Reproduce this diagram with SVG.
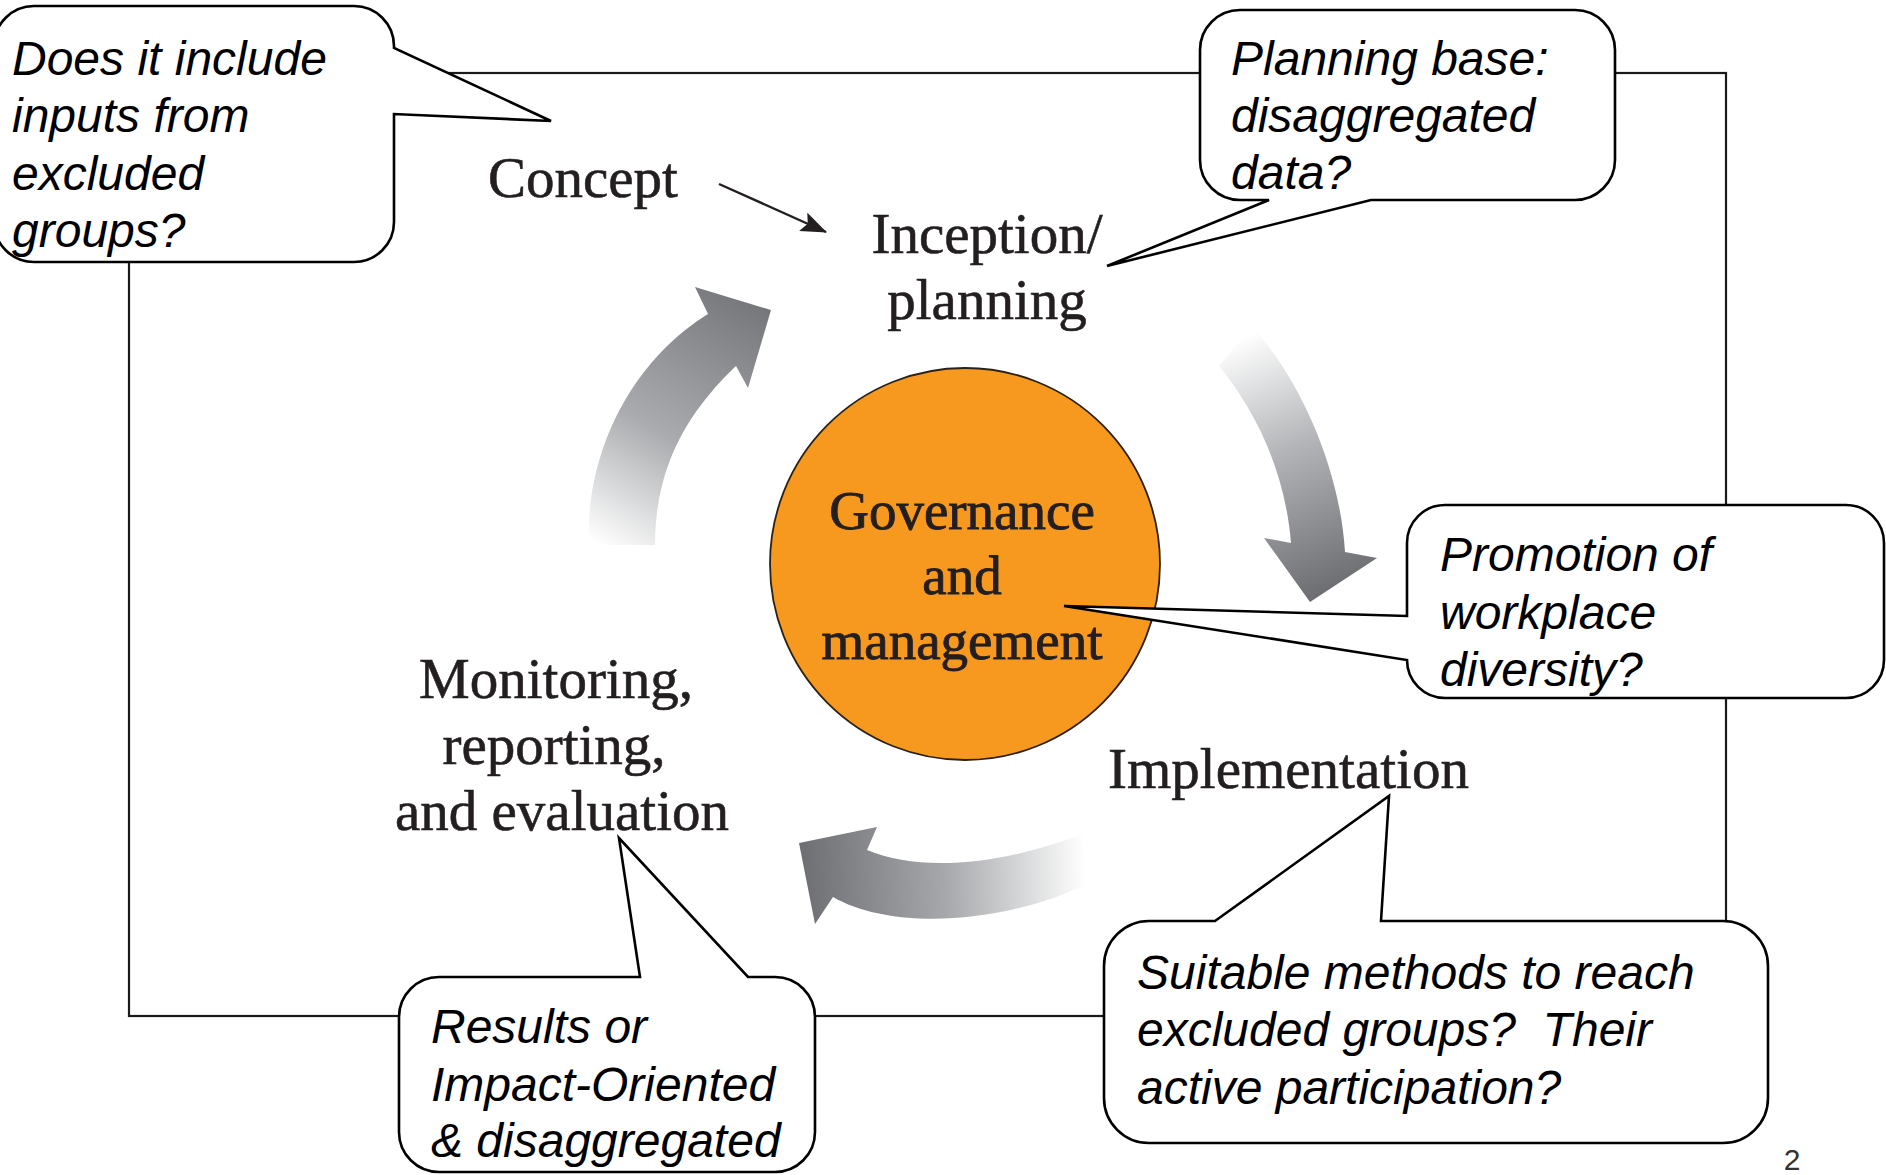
<svg xmlns="http://www.w3.org/2000/svg" width="1886" height="1175" viewBox="0 0 1886 1175">
  <defs>
    <style>
      .frame { fill: none; stroke: #1a1a1a; stroke-width: 2.2; }
      .stage { font-family: "Liberation Serif", "DejaVu Serif", serif; font-size: 57px; fill: #231f20; stroke: #231f20; stroke-width: 0.6; }
      .hub { font-size: 55px; stroke-width: 0.9; }
      .callout path { fill: #ffffff; stroke: #000000; stroke-width: 2.6; stroke-linejoin: miter; }
      .callout text { font-family: "Liberation Sans", Arial, sans-serif; font-style: italic; font-size: 48px; fill: #000000; }
      .pageno { font-family: "Liberation Sans", Arial, sans-serif; font-size: 30px; fill: #333333; }
    </style>
    <linearGradient id="gradUp" gradientUnits="userSpaceOnUse" x1="745" y1="300" x2="600" y2="545">
      <stop offset="0" stop-color="#77787b"/>
      <stop offset="0.55" stop-color="#a9abae"/>
      <stop offset="1" stop-color="#ffffff"/>
    </linearGradient>
    <linearGradient id="gradDown" gradientUnits="userSpaceOnUse" x1="1225" y1="345" x2="1330" y2="590">
      <stop offset="0" stop-color="#ffffff"/>
      <stop offset="0.45" stop-color="#b3b5b8"/>
      <stop offset="1" stop-color="#6d6e71"/>
    </linearGradient>
    <linearGradient id="gradLeft" gradientUnits="userSpaceOnUse" x1="805" y1="870" x2="1085" y2="860">
      <stop offset="0" stop-color="#6f7073"/>
      <stop offset="0.5" stop-color="#a6a8ab"/>
      <stop offset="1" stop-color="#ffffff"/>
    </linearGradient>
    <marker id="arrowHead" markerWidth="26" markerHeight="20" refX="25" refY="10" orient="auto" markerUnits="userSpaceOnUse" viewBox="0 0 26 20">
      <path d="M0,0 L26,10 L0,20 L5,10 Z" fill="#231f20"/>
    </marker>
  </defs>

  <rect width="1886" height="1175" fill="#ffffff"/>

  <!-- outer frame -->
  <rect class="frame" x="129" y="73" width="1597" height="943"/>

  <!-- cycle arrows and the concept pointer -->
  <g id="connectors">
    <path id="arrow-monitoring-to-inception" fill="url(#gradUp)"
          d="M589,545 C585,455 630,362 708,314 L695,287 L771,310 L748,388 L736,366 C692,408 655,462 655,545 Z"/>
    <path id="arrow-inception-to-implementation" fill="url(#gradDown)"
          d="M1219,366 C1255,410 1285,470 1291,543 L1264,538 L1310,602 L1377,558 L1345,552 C1340,470 1302,382 1252,326 Z"/>
    <path id="arrow-implementation-to-monitoring" fill="url(#gradLeft)"
          d="M867,850 C920,872 1000,866 1085,833 L1085,885 C1000,925 890,930 833,897 L815,924 L799,843 L877,827 Z"/>
    <line id="arrow-concept-to-inception" x1="719" y1="184" x2="826" y2="232" stroke="#231f20" stroke-width="2.4"
          marker-end="url(#arrowHead)"/>
  </g>

  <!-- central hub -->
  <g id="governance">
    <ellipse cx="965" cy="564" rx="195" ry="196" fill="#f7991f" stroke="#2b2217" stroke-width="1.8"/>
    <text class="stage hub" text-anchor="middle" x="962" y="529">Governance</text>
    <text class="stage hub" text-anchor="middle" x="962" y="594">and</text>
    <text class="stage hub" text-anchor="middle" x="962" y="659">management</text>
  </g>

  <!-- stage labels -->
  <g id="concept">
    <text class="stage" x="488" y="197">Concept</text>
  </g>
  <g id="inception">
    <text class="stage" text-anchor="middle" x="987" y="253">Inception/</text>
    <text class="stage" text-anchor="middle" x="987" y="319">planning</text>
  </g>
  <g id="implementation">
    <text class="stage" x="1108" y="788">Implementation</text>
  </g>
  <g id="monitoring">
    <text class="stage" text-anchor="middle" x="556" y="698">Monitoring,</text>
    <text class="stage" text-anchor="middle" x="554" y="764">reporting,</text>
    <text class="stage" text-anchor="middle" x="562" y="830">and evaluation</text>
  </g>

  <!-- question callouts -->
  <g id="callout-inputs" class="callout">
    <path d="M34,6 H354 A40,40 0 0 1 394,46 L394,48 L551,121 L394,114 V222 A40,40 0 0 1 354,262 H34 A40,40 0 0 1 -6,222 V46 A40,40 0 0 1 34,6 Z"/>
    <text x="12" y="75">Does it include</text>
    <text x="12" y="132">inputs from</text>
    <text x="12" y="190">excluded</text>
    <text x="12" y="247">groups?</text>
  </g>

  <g id="callout-planning-base" class="callout">
    <path d="M1240,10 H1575 A40,40 0 0 1 1615,50 V160 A40,40 0 0 1 1575,200 H1371 L1107,266 L1269,200 H1240 A40,40 0 0 1 1200,160 V50 A40,40 0 0 1 1240,10 Z"/>
    <text x="1231" y="75">Planning base:</text>
    <text x="1231" y="132">disaggregated</text>
    <text x="1231" y="189">data?</text>
  </g>

  <g id="callout-diversity" class="callout">
    <path d="M1445,505 H1846 A38,38 0 0 1 1884,543 V660 A38,38 0 0 1 1846,698 H1445 A38,38 0 0 1 1407,660 L1064,606 L1407,616 V543 A38,38 0 0 1 1445,505 Z"/>
    <text x="1440" y="571">Promotion of</text>
    <text x="1440" y="629">workplace</text>
    <text x="1440" y="686">diversity?</text>
  </g>

  <g id="callout-results" class="callout">
    <path d="M439,977 H640 L619,838 L748,977 H775 A40,40 0 0 1 815,1017 V1132 A40,40 0 0 1 775,1172 H439 A40,40 0 0 1 399,1132 V1017 A40,40 0 0 1 439,977 Z"/>
    <text x="431" y="1043">Results or</text>
    <text x="431" y="1101">Impact-Oriented</text>
    <text x="431" y="1157">&amp; disaggregated</text>
  </g>

  <g id="callout-methods" class="callout">
    <path d="M1149,921 H1215 L1389,796 L1381,921 H1723 A45,45 0 0 1 1768,966 V1098 A45,45 0 0 1 1723,1143 H1149 A45,45 0 0 1 1104,1098 V966 A45,45 0 0 1 1149,921 Z"/>
    <text x="1137" y="989">Suitable methods to reach</text>
    <text x="1137" y="1046" xml:space="preserve">excluded groups?  Their</text>
    <text x="1137" y="1104">active participation?</text>
  </g>

  <text class="pageno" x="1792" y="1170" text-anchor="middle">2</text>
</svg>
